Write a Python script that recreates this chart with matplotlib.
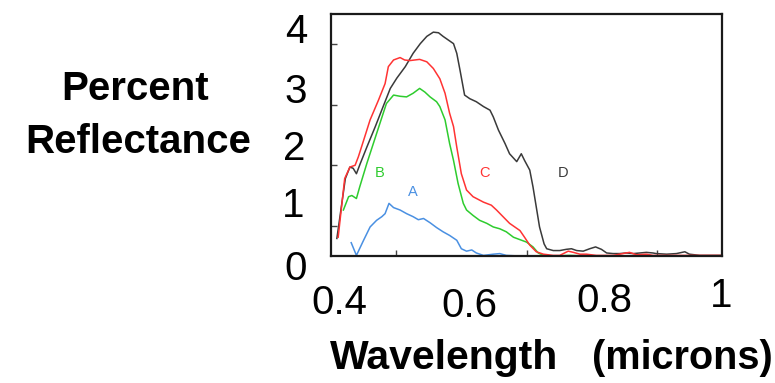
import matplotlib
matplotlib.use("Agg")
import matplotlib.pyplot as plt
from matplotlib.transforms import ScaledTranslation

# ---- data (wavelength in microns, percent reflectance) ----
wl_D = [0.409, 0.422, 0.429, 0.434, 0.439, 0.445, 0.455, 0.468, 0.480, 0.491, 0.501, 0.514,
        0.526, 0.537, 0.547, 0.557, 0.565, 0.572, 0.580, 0.588, 0.593, 0.598, 0.605, 0.613,
        0.623, 0.634, 0.644, 0.649, 0.657, 0.667, 0.674, 0.685, 0.692, 0.697, 0.705, 0.710,
        0.715, 0.720, 0.727, 0.731, 0.741, 0.751, 0.761, 0.769, 0.777, 0.787, 0.797, 0.806,
        0.815, 0.823, 0.833, 0.843, 0.853, 0.864, 0.874, 0.884, 0.894, 0.899, 0.915, 0.930,
        0.943, 0.950, 0.966, 0.999]
refl_D = [0.29, 1.28, 1.47, 1.45, 1.36, 1.53, 1.80, 2.14, 2.47, 2.77, 2.94, 3.13,
          3.35, 3.51, 3.63, 3.70, 3.69, 3.63, 3.57, 3.51, 3.35, 3.07, 2.66, 2.60,
          2.55, 2.47, 2.41, 2.30, 2.08, 1.86, 1.69, 1.56, 1.69, 1.58, 1.42, 1.14,
          0.81, 0.48, 0.20, 0.12, 0.09, 0.09, 0.11, 0.12, 0.09, 0.08, 0.12, 0.15,
          0.11, 0.05, 0.04, 0.04, 0.05, 0.04, 0.05, 0.06, 0.05, 0.04, 0.03, 0.04,
          0.07, 0.03, 0.01, 0.01]

wl_C = [0.411, 0.421, 0.429, 0.437, 0.442, 0.450, 0.460, 0.473, 0.483, 0.488, 0.496, 0.506,
        0.513, 0.521, 0.536, 0.547, 0.557, 0.567, 0.575, 0.582, 0.588, 0.593, 0.600, 0.608,
        0.618, 0.634, 0.646, 0.654, 0.664, 0.674, 0.690, 0.697, 0.705, 0.715, 0.726, 0.741,
        0.751, 0.764, 0.772, 0.782, 0.792, 0.807, 0.833, 0.848, 0.858, 0.869, 0.884, 0.894,
        0.999]
refl_C = [0.31, 1.28, 1.47, 1.50, 1.64, 1.91, 2.25, 2.58, 2.85, 3.13, 3.24, 3.28,
          3.24, 3.23, 3.25, 3.21, 3.10, 2.93, 2.69, 2.36, 2.14, 1.80, 1.36, 1.09,
          0.98, 0.89, 0.84, 0.76, 0.65, 0.54, 0.42, 0.31, 0.18, 0.07, 0.03, 0.01,
          0.01, 0.08, 0.06, 0.03, 0.03, 0.01, 0.01, 0.04, 0.06, 0.02, 0.03, 0.01,
          0.01]

wl_B = [0.419, 0.427, 0.432, 0.439, 0.444, 0.455, 0.465, 0.475, 0.485, 0.496, 0.506, 0.516,
        0.526, 0.536, 0.544, 0.552, 0.562, 0.567, 0.575, 0.582, 0.588, 0.595, 0.603, 0.608,
        0.618, 0.628, 0.639, 0.649, 0.659, 0.669, 0.680, 0.690, 0.700, 0.710, 0.718, 0.726,
        0.741, 0.766, 0.792, 0.999]
refl_B = [0.76, 0.98, 1.00, 0.95, 1.14, 1.53, 1.86, 2.19, 2.52, 2.66, 2.64, 2.63,
          2.69, 2.77, 2.71, 2.63, 2.55, 2.47, 2.25, 1.86, 1.58, 1.20, 0.87, 0.76,
          0.67, 0.59, 0.54, 0.48, 0.45, 0.40, 0.31, 0.27, 0.23, 0.15, 0.05, 0.01,
          0.00, 0.01, 0.00, 0.00]

wl_A = [0.431, 0.439, 0.450, 0.460, 0.470, 0.478, 0.483, 0.489, 0.496, 0.506, 0.516, 0.526,
        0.534, 0.542, 0.552, 0.562, 0.572, 0.582, 0.593, 0.600, 0.608, 0.616, 0.623, 0.634,
        0.649, 0.659, 0.669, 0.690]
refl_A = [0.22, 0.01, 0.26, 0.48, 0.59, 0.65, 0.70, 0.87, 0.80, 0.76, 0.70, 0.65,
          0.60, 0.62, 0.55, 0.47, 0.40, 0.34, 0.26, 0.12, 0.08, 0.10, 0.05, 0.01,
          0.03, 0.04, 0.01, 0.00]

curve_names = ["A", "B", "C", "D"]
name_pos_x = [0.526, 0.475, 0.635, 0.756]
name_pos_y = [1.06, 1.37, 1.37, 1.37]

x_tick_vals = [0.4, 0.6, 0.8, 1.0]
x_tick_labels = ["0.4", "0.6", "0.8", "1"]
y_tick_vals = [0, 1, 2, 3, 4]
y_tick_labels = ["0", "1", "2", "3", "4"]

# ---- style ----
col_A = "#4a90e2"
col_B = "#2ecc2e"
col_C = "#ff3333"
col_D = "#3a3a3a"

W, H = 775, 383
fig = plt.figure(figsize=(W / 100, H / 100), dpi=100)
fig.patch.set_facecolor("white")
ax = fig.add_axes([331 / W, 1 - 256 / H, (722 - 331) / W, (256 - 14) / H])

lw = 1.1
ax.plot(wl_A, refl_A, color=col_A, lw=lw)
ax.plot(wl_B, refl_B, color=col_B, lw=lw)
ax.plot(wl_D, refl_D, color=col_D, lw=lw)
ax.plot(wl_C, refl_C, color=col_C, lw=lw)

for nm, px_, py_, c in zip(curve_names, name_pos_x, name_pos_y, [col_A, col_B, col_C, col_D]):
    ax.text(px_, py_, nm, color=c, fontsize=10.5, ha="center", va="center",
            family=["Liberation Sans", "DejaVu Sans"])

ax.set_xlim(0.4, 1.0)
ax.set_ylim(0, 4)

for s in ax.spines.values():
    s.set_linewidth(1.6)
    s.set_color("#1a1a1a")

# inner small ticks
ax.set_xticks([0.4, 0.5, 0.6, 0.7, 0.8, 0.9, 1.0], minor=True)
ax.set_yticks([0.5, 1, 1.5, 2, 2.5, 3, 3.5], minor=True)
ax.tick_params(which="minor", direction="in", length=4, width=1.0, color="#444444",
               left=True, bottom=True, top=False, right=False)

ax.set_xticks(x_tick_vals)
ax.set_xticklabels(x_tick_labels)
ax.set_yticks(y_tick_vals)
ax.set_yticklabels(y_tick_labels)
ax.tick_params(which="major", length=0, pad=0, labelsize=29)
for lab in ax.get_xticklabels() + ax.get_yticklabels():
    lab.set_fontfamily(["Liberation Sans", "DejaVu Sans"])

# hand-placed label offsets (pixels: dx right, dy down) to baseline
x_off = [(8, 58), (8.5, 60.7), (13, 55.7), (-1, 50.7)]
y_off = [(-24, 24), (-27, 21.2), (-26, 25), (-24, 28.5), (-24, 29.3)]
for lab, (dx, dy) in zip(ax.get_xticklabels(), x_off):
    lab.set_va("baseline")
    lab.set_transform(lab.get_transform() + ScaledTranslation(dx / 100, -dy / 100, fig.dpi_scale_trans))
for lab, (dx, dy) in zip(ax.get_yticklabels(), y_off):
    lab.set_va("baseline")
    lab.set_ha("right")
    lab.set_transform(lab.get_transform() + ScaledTranslation(dx / 100, -dy / 100, fig.dpi_scale_trans))

bold = dict(fontweight="bold", family=["Liberation Sans", "DejaVu Sans"],
            ha="center", va="baseline")
fig.text(444 / W, 1 - 369 / H, "Wavelength", fontsize=29.5, **bold)
fig.text(682.5 / W, 1 - 369 / H, "(microns)", fontsize=28.5, **bold)
fig.text(135.5 / W, 1 - 99.5 / H, "Percent", fontsize=29, **bold)
fig.text(138 / W, 1 - 153 / H, "Reflectance", fontsize=29, **bold)

fig.savefig("out.png", dpi=100, facecolor="white")
